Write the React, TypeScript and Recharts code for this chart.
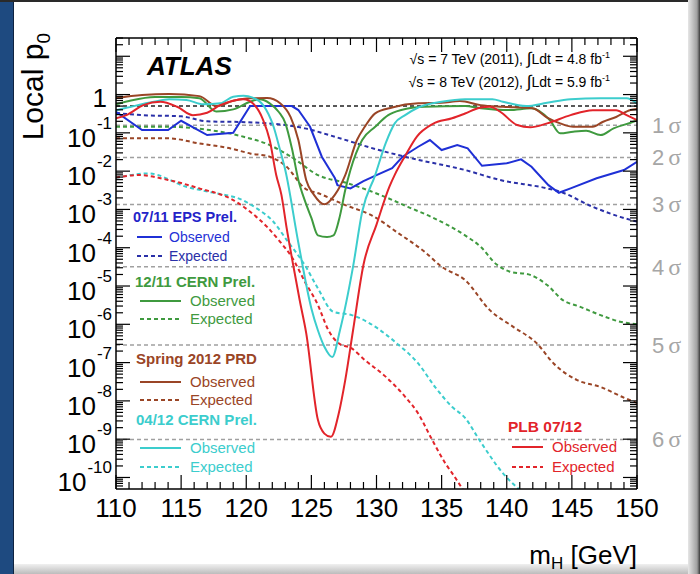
import React from "react";
import { LineChart, Line, XAxis, YAxis, ReferenceLine } from "recharts";

const SANS = "'Liberation Sans', Arial, Helvetica, sans-serif";
const SERIF = "'Liberation Serif', 'Times New Roman', serif";

// 07/11 EPS Prel.
const epsObsM = [110, 112, 114, 115, 117, 119, 120.3, 123.5, 124, 124.9, 125.8, 126.8, 127, 128, 129, 130, 131.2, 132, 133.2, 134.1, 135, 136.2, 137, 138.1, 140, 141.1, 141.9, 143.2, 144, 144.9, 146.9, 149, 150];
const epsObsP = [0.356, 0.118, 0.118, 0.207, 0.0875, 0.1, 0.5, 0.5, 0.394, 0.144, 0.0238, 0.0066, 0.0043, 0.00355, 0.0055, 0.0079, 0.012, 0.0238, 0.0434, 0.0648, 0.0355, 0.048, 0.0394, 0.0138, 0.016, 0.0203, 0.013, 0.0043, 0.00272, 0.00355, 0.0065, 0.0107, 0.0176];
const epsExpM = [110, 112, 115, 117, 120, 123, 124.5, 126.8, 130, 132.7, 136.8, 139.5, 143.1, 144.1, 146.6, 148.7, 150];
const epsExpP = [0.33, 0.29, 0.27, 0.2, 0.19, 0.16, 0.131, 0.079, 0.037, 0.0216, 0.0107, 0.00585, 0.00355, 0.0029, 0.00117, 0.00064, 0.00048];

// 12/11 CERN Prel.
const cern11ObsM = [110, 111, 113, 115, 116.4, 117.7, 119, 120.3, 121, 121.8, 122.5, 123, 123.5, 124, 124.5, 125, 125.5, 126.2, 126.7, 127.2, 127.6, 128, 128.9, 129.9, 130.9, 131.9, 133.7, 136.8, 138, 140.2, 141.9, 143.3, 144.1, 145.1, 146.1, 147.2, 148.2, 149.7, 150];
const cern11ObsP = [0.56, 0.68, 0.86, 0.86, 0.8, 0.36, 0.41, 0.65, 0.75, 0.59, 0.35, 0.18, 0.04, 0.0059, 0.0017, 6e-4, 2.1e-4, 1.9e-4, 2.1e-4, 7e-4, 0.0032, 0.0107, 0.065, 0.144, 0.29, 0.394, 0.48, 0.5, 0.44, 0.394, 0.436, 0.216, 0.097, 0.107, 0.113, 0.0875, 0.131, 0.195, 0.216];
const cern11ExpM = [110, 114, 117.2, 119.8, 121.8, 123.5, 125.5, 127.8, 130.7, 132.4, 134.2, 136.8, 138, 139.2, 140.2, 141.8, 143.1, 144.3, 145.6, 147.2, 148.7, 150];
const cern11ExpP = [0.144, 0.144, 0.118, 0.079, 0.048, 0.023, 0.0079, 0.0048, 0.0021, 0.00117, 6.4e-4, 2.1e-4, 1.06e-4, 3.7e-5, 2.4e-5, 1.95e-5, 1.06e-5, 4.3e-6, 2.9e-6, 1.74e-6, 1.17e-6, 1.0e-6];

// Spring 2012 PRD
const prdObsM = [110, 112, 114.1, 116.4, 117.7, 119, 120.3, 121.6, 122.6, 123.4, 124, 124.6, 125.2, 126, 126.8, 127.6, 128.5, 129.1, 129.9, 131.2, 133.2, 135, 136.4, 138, 139.7, 142, 143.1, 144.1, 145.1, 146.6, 147.4, 148.4, 149.5, 150];
const prdObsP = [0.8, 0.97, 1.03, 0.91, 0.5, 0.69, 0.8, 0.81, 0.59, 0.26, 0.065, 0.0059, 0.0024, 0.00136, 0.0024, 0.0079, 0.065, 0.144, 0.323, 0.46, 0.59, 0.61, 0.68, 0.53, 0.48, 0.44, 0.25, 0.177, 0.144, 0.144, 0.195, 0.26, 0.394, 0.42];
const prdExpM = [110, 114, 116.4, 118.8, 120.3, 121.8, 123.1, 124.5, 125.6, 127.6, 129.6, 131.7, 133.7, 135, 136.8, 138.7, 140.5, 142.3, 143.6, 145.4, 147.2, 149.1, 150];
const prdExpP = [0.0718, 0.0718, 0.053, 0.039, 0.029, 0.0238, 0.013, 0.00355, 0.0026, 0.0013, 7.1e-4, 2.37e-4, 7.8e-5, 3.2e-5, 1.43e-5, 2.35e-6, 8.6e-7, 3.2e-7, 9.5e-8, 3.5e-8, 2.3e-8, 1.17e-8, 8.8e-9];

// 04/12 CERN Prel.
const cern12ObsM = [110, 110.8, 112.9, 114.1, 115.4, 116.7, 118, 119, 119.8, 120.5, 121.3, 122.1, 122.6, 123, 124, 125, 125.5, 126, 126.6, 127.2, 128.2, 128.9, 129.9, 130.7, 131.4, 132.2, 133.2, 135, 136.8, 138.9, 139.7, 141.5, 143.1, 144.9, 147.2, 149.2, 150];
const cern12ObsP = [0.39, 0.45, 0.65, 0.75, 0.72, 0.56, 0.59, 0.88, 0.93, 0.83, 0.53, 0.144, 0.035, 0.0106, 1.35e-4, 2.6e-6, 7e-7, 2.6e-7, 1.4e-7, 7.1e-7, 3.2e-5, 8.7e-4, 0.0079, 0.053, 0.177, 0.29, 0.46, 0.65, 0.76, 0.76, 0.65, 0.5, 0.61, 0.75, 0.8, 0.8, 0.59];
const cern12ExpM = [110, 112.5, 115.4, 117.3, 119.7, 120.8, 122.1, 123.1, 124.5, 125.5, 126.7, 128.1, 129.4, 130.7, 131.7, 133.2, 134.5, 135.8, 136.8, 137.9, 139.7, 141];
const cern12ExpP = [0.0066, 0.0087, 0.0039, 0.0028, 0.00176, 0.00107, 4.7e-4, 1.6e-4, 3.5e-5, 8.7e-6, 2.1e-6, 1.74e-6, 1.1e-6, 5.5e-7, 2.9e-7, 9.5e-8, 2.3e-8, 7e-9, 3.6e-9, 9.5e-10, 1.3e-10, 4.7e-11];

// PLB 07/12
const plbObsM = [110, 110.8, 112.1, 113.4, 114.7, 115.9, 117, 118, 119, 119.8, 120.5, 121.3, 121.8, 122.3, 122.7, 123.1, 123.6, 124.1, 124.6, 125.5, 126, 126.5, 127.1, 127.6, 128.2, 129, 130, 131, 131.4, 132.2, 133.1, 134.3, 135.8, 136.8, 138, 138.7, 139.5, 140.8, 141.8, 143.1, 144.9, 146.6, 148.4, 149.2, 150];
const plbObsP = [0.24, 0.29, 0.53, 0.65, 0.48, 0.29, 0.335, 0.53, 0.69, 0.75, 0.59, 0.216, 0.065, 0.0079, 0.0024, 3.3e-4, 3.6e-5, 4.3e-6, 6e-7, 3.2e-9, 1.4e-9, 1.15e-9, 4.7e-9, 3.5e-8, 7e-7, 3.6e-5, 4e-4, 0.004, 0.008, 0.025, 0.08, 0.17, 0.24, 0.32, 0.46, 0.48, 0.356, 0.16, 0.14, 0.177, 0.29, 0.39, 0.39, 0.29, 0.216];
const plbExpM = [110, 111.8, 114, 116.4, 119, 120.3, 121.6, 122.6, 123.5, 124.5, 125.5, 126.3, 127.1, 128.1, 129.1, 130.7, 132.2, 133.2, 134.2, 135.3, 136, 136.8];
const plbExpP = [0.0068, 0.0079, 0.0059, 0.00355, 0.00176, 8.7e-4, 3.5e-4, 1.43e-4, 5.7e-5, 1.3e-5, 3.2e-6, 7.1e-7, 3.2e-7, 2.35e-7, 1.17e-7, 4.3e-8, 1.28e-8, 4.7e-9, 1.07e-9, 2.3e-10, 1.04e-10, 3.9e-11];

// one-sided local significance levels
const sigmaN = [1, 2, 3, 4, 5, 6];
const sigmaP = [0.1587, 0.02275, 0.00135, 3.167e-5, 2.867e-7, 9.866e-10];

const xMajorTicks = [110, 115, 120, 125, 130, 135, 140, 145, 150];
const yLabelDecades = [0, -1, -2, -3, -4, -5, -6, -7, -8, -9, -10];

const Y_MIN = 5e-11;
const Y_MAX = 30;

const xTicks: number[] = [];
for (let m = 110; m <= 150; m++) xTicks.push(m);
const yTicks: number[] = [];
for (let e = -11; e <= 1; e++) {
  for (let k = 1; k <= 9; k++) {
    const v = k * Math.pow(10, e);
    if (v >= Y_MIN && v <= Y_MAX) yTicks.push(v);
  }
}

const BLUE = "#1f30d6";
const BLUE_D = "#2a30a8";
const GREEN = "#3f9a3f";
const BROWN = "#9a4526";
const CYAN = "#3ccdcd";
const RED = "#e2242a";

const toRows = (m: number[], p: number[]) => m.map((v, i) => ({ m: v, p: p[i] }));

const series = [
  { key: "epsExp", data: toRows(epsExpM, epsExpP), color: BLUE_D, dashed: true, curve: "monotone" },
  { key: "cern11Exp", data: toRows(cern11ExpM, cern11ExpP), color: GREEN, dashed: true, curve: "monotone" },
  { key: "prdExp", data: toRows(prdExpM, prdExpP), color: BROWN, dashed: true, curve: "monotone" },
  { key: "cern12Exp", data: toRows(cern12ExpM, cern12ExpP), color: CYAN, dashed: true, curve: "monotone" },
  { key: "plbExp", data: toRows(plbExpM, plbExpP), color: RED, dashed: true, curve: "monotone" },
  { key: "epsObs", data: toRows(epsObsM, epsObsP), color: BLUE, dashed: false, curve: "linear" },
  { key: "cern11Obs", data: toRows(cern11ObsM, cern11ObsP), color: GREEN, dashed: false, curve: "monotone" },
  { key: "prdObs", data: toRows(prdObsM, prdObsP), color: BROWN, dashed: false, curve: "monotone" },
  { key: "cern12Obs", data: toRows(cern12ObsM, cern12ObsP), color: CYAN, dashed: false, curve: "monotone" },
  { key: "plbObs", data: toRows(plbObsM, plbObsP), color: RED, dashed: false, curve: "monotone" },
];

const isDecade = (v: number) => {
  const lg = Math.log10(v);
  return Math.abs(lg - Math.round(lg)) < 1e-9;
};

const LeftTick = (props: any) => {
  const { x, y, payload } = props;
  const major = isDecade(payload.value);
  const e = Math.round(Math.log10(payload.value));
  const labelled = major && yLabelDecades.includes(e);
  return (
    <g>
      <line x1={x} x2={x + (major ? 14 : 7)} y1={y} y2={y} stroke="#000" strokeWidth={1.2} />
      {labelled && e === 0 && (
        <text x={x - 9} y={y + 12} textAnchor="end" fontSize={26} fontFamily={SANS} fill="#000">1</text>
      )}
      {labelled && e !== 0 && (
        <text x={x - 4} y={y + 14} textAnchor="end" fontSize={26} fontFamily={SANS} fill="#000">
          10<tspan dx={1} dy={-18} fontSize={17}>{e}</tspan>
        </text>
      )}
    </g>
  );
};

const RightTick = (props: any) => {
  const { x, y, payload } = props;
  const major = isDecade(payload.value);
  return <line x1={x} x2={x - (major ? 14 : 7)} y1={y} y2={y} stroke="#000" strokeWidth={1.2} />;
};

const BottomTick = (props: any) => {
  const { x, y, payload } = props;
  const major = xMajorTicks.includes(payload.value);
  return (
    <g>
      <line x1={x} x2={x} y1={y} y2={y - (major ? 14 : 7)} stroke="#000" strokeWidth={1.2} />
      {major && (
        <text x={x} y={y + 28} textAnchor="middle" fontSize={26} fontFamily={SANS} fill="#000">
          {payload.value}
        </text>
      )}
    </g>
  );
};

const TopTick = (props: any) => {
  const { x, y, payload } = props;
  const major = xMajorTicks.includes(payload.value);
  return <line x1={x} x2={x} y1={y} y2={y + (major ? 14 : 7)} stroke="#000" strokeWidth={1.2} />;
};

const sigmaLabel = (n: number) => (lp: any) => {
  const vb = lp.viewBox || {};
  return (
    <text x={(vb.x ?? 0) + (vb.width ?? 0) + 15} y={(vb.y ?? 0) + 8} fontSize={22} fontFamily={SANS} fill="#a6a6a6">
      {n}
      <tspan dx={4} fontFamily={SERIF} fontSize={24}>σ</tspan>
    </text>
  );
};

const LegendEntry = ({ x, y, len, textX, color, dashed, label, size }: any) => (
  <g>
    <line x1={x} x2={x + len} y1={y} y2={y} stroke={color} strokeWidth={2} strokeDasharray={dashed ? "4 3" : undefined} />
    <text x={textX} y={y + 5} fontSize={size} fontFamily={SANS} fill={color}>{label}</text>
  </g>
);

export default function App() {
  const axisLine = { stroke: "#000", strokeWidth: 1.5 };
  return (
    <div style={{ position: "absolute", left: 0, top: 0, width: 700, height: 574, background: "#fff", overflow: "hidden" }}>
      <div style={{ position: "absolute", left: 0, top: 0, width: 13, height: 574, background: "#1e4a80", borderRight: "1px solid #0e2340" }} />
      <div style={{ position: "absolute", left: 0, top: 0, width: 700, height: 2, background: "#2a2a2a" }} />
      <div style={{ position: "absolute", left: 14, top: 564, width: 676, height: 10, background: "linear-gradient(to bottom, #f0f0f0, #bcbcbc)" }} />
      <div style={{ position: "absolute", left: 688, top: 0, width: 12, height: 574, background: "linear-gradient(to right, #e6e6e6, #a0a0a0 75%, #3a3a3a)" }} />

      <div style={{ position: "absolute", left: 0, top: 0 }}>
        <LineChart width={700} height={574} margin={{ top: 18, right: 13, bottom: 55, left: 56 }}>
          <XAxis xAxisId="b" type="number" dataKey="m" domain={[110, 150]} allowDataOverflow ticks={xTicks} interval={0}
            tick={<BottomTick />} tickLine={false} tickSize={0} tickMargin={0} height={30} axisLine={axisLine} />
          <XAxis xAxisId="t" orientation="top" type="number" dataKey="m" domain={[110, 150]} allowDataOverflow ticks={xTicks} interval={0}
            tick={<TopTick />} tickLine={false} tickSize={0} tickMargin={0} height={20} axisLine={axisLine} />
          <YAxis yAxisId="l" type="number" scale="log" domain={[Y_MIN, Y_MAX]} allowDataOverflow ticks={yTicks} interval={0}
            tick={<LeftTick />} tickLine={false} tickSize={0} tickMargin={0} width={60} axisLine={axisLine} />
          <YAxis yAxisId="r" orientation="right" type="number" scale="log" domain={[Y_MIN, Y_MAX]} allowDataOverflow ticks={yTicks} interval={0}
            tick={<RightTick />} tickLine={false} tickSize={0} tickMargin={0} width={50} axisLine={axisLine} />

          {sigmaP.map((p, i) => (
            <ReferenceLine key={"s" + i} xAxisId="b" yAxisId="l" y={p} stroke="#a0a0a0" strokeWidth={1.5} strokeDasharray="4 3"
              label={sigmaLabel(sigmaN[i])} />
          ))}
          <ReferenceLine xAxisId="b" yAxisId="l" y={0.5} stroke="#222" strokeWidth={1.5} strokeDasharray="4 3" />

          {series.map((s) => (
            <Line key={s.key} xAxisId="b" yAxisId="l" data={s.data} dataKey="p" type={s.curve as any}
              stroke={s.color} strokeWidth={2} strokeDasharray={s.dashed ? "4 3" : undefined}
              dot={false} activeDot={false} isAnimationActive={false} />
          ))}
        </LineChart>
      </div>

      <svg width={700} height={574} style={{ position: "absolute", left: 0, top: 0, pointerEvents: "none" }}>
        <text x={147} y={75} fontSize={26} fontWeight="bold" fontStyle="italic" fontFamily={SANS} fill="#000">ATLAS</text>
        <text x={610} y={64} textAnchor="end" fontSize={14} fontFamily={SANS} fill="#000">
          √s = 7 TeV (2011), <tspan fontSize={17}>∫</tspan>Ldt = 4.8 fb<tspan dy={-6} fontSize={9}>-1</tspan>
        </text>
        <text x={610} y={87} textAnchor="end" fontSize={14} fontFamily={SANS} fill="#000">
          √s = 8 TeV (2012), <tspan fontSize={17}>∫</tspan>Ldt = 5.9 fb<tspan dy={-6} fontSize={9}>-1</tspan>
        </text>

        <text transform="rotate(-90)" x={-33} y={43} textAnchor="end" fontSize={30} fontFamily={SANS} fill="#000">
          Local p<tspan dy={7} fontSize={19}>0</tspan>
        </text>
        <text x={637} y={564} textAnchor="end" fontSize={26} fontFamily={SANS} fill="#000">
          m<tspan dy={5} fontSize={17}>H</tspan><tspan dy={-5}> [GeV]</tspan>
        </text>

        <text x={133} y={222} fontSize={14.5} fontWeight="bold" fontFamily={SANS} fill="#2323c8">07/11 EPS Prel.</text>
        <LegendEntry x={137} y={237} len={25} textX={169} color={BLUE} label="Observed" size={14} />
        <LegendEntry x={137} y={256} len={25} textX={169} color={BLUE_D} dashed label="Expected" size={14} />

        <text x={135} y={287} fontSize={15} fontWeight="bold" fontFamily={SANS} fill="#3f9a3f">12/11 CERN Prel.</text>
        <LegendEntry x={140} y={301} len={41} textX={190} color={GREEN} label="Observed" size={15} />
        <LegendEntry x={140} y={319} len={41} textX={190} color={GREEN} dashed label="Expected" size={15} />

        <text x={136} y={364} fontSize={15} fontWeight="bold" fontFamily={SANS} fill={BROWN}>Spring 2012 PRD</text>
        <LegendEntry x={140} y={382} len={41} textX={190} color={BROWN} label="Observed" size={15} />
        <LegendEntry x={140} y={400} len={41} textX={190} color={BROWN} dashed label="Expected" size={15} />

        <text x={136} y={425} fontSize={15} fontWeight="bold" fontFamily={SANS} fill={CYAN}>04/12 CERN Prel.</text>
        <LegendEntry x={140} y={448} len={41} textX={190} color={CYAN} label="Observed" size={15} />
        <LegendEntry x={140} y={467} len={41} textX={190} color={CYAN} dashed label="Expected" size={15} />

        <text x={508} y={432} fontSize={15.5} fontWeight="bold" fontFamily={SANS} fill={RED}>PLB 07/12</text>
        <LegendEntry x={512} y={447} len={31} textX={552} color={RED} label="Observed" size={15} />
        <LegendEntry x={512} y={467} len={31} textX={552} color={RED} dashed label="Expected" size={15} />
      </svg>
    </div>
  );
}
